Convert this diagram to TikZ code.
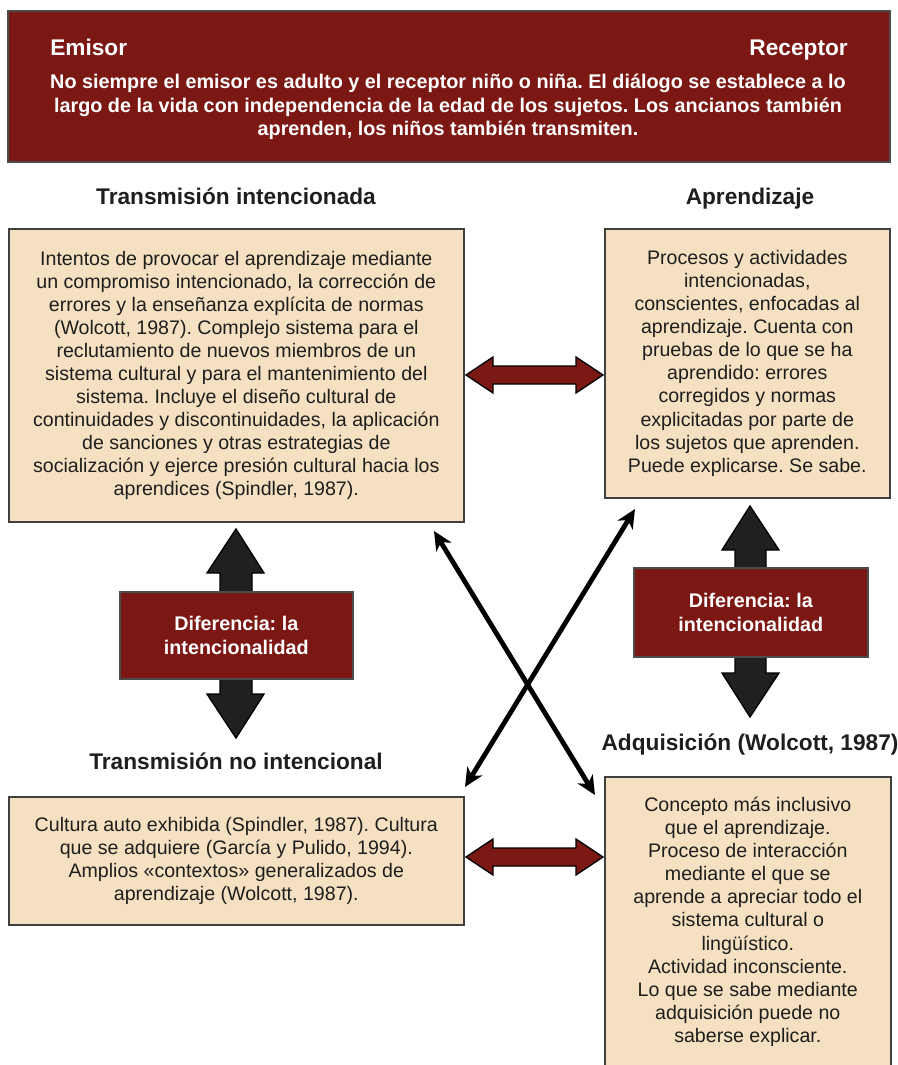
\documentclass[tikz,border=0pt]{standalone}
\usepackage{fontspec}
\setmainfont{Liberation Sans}
\usetikzlibrary{arrows.meta}
\definecolor{darkred}{RGB}{123,24,20}
\definecolor{tanfill}{RGB}{245,225,193}
\definecolor{txt}{RGB}{30,30,30}
\definecolor{blk}{RGB}{32,32,32}
\frenchspacing
\begin{document}
\begin{tikzpicture}[x=0.75pt,y=-0.75pt,
  tanbox/.style={draw=black!75, line width=1.2pt, fill=tanfill, inner sep=0pt, anchor=north west,
    align=center, text=txt, font=\fontsize{14.7}{17.3}\selectfont},
  redbox/.style={draw=black!70, line width=1.2pt, fill=darkred, inner sep=0pt, anchor=north west,
    align=center, text=white, font=\bfseries\fontsize{14.8}{18}\selectfont},
  heading/.style={text=txt, font=\bfseries\fontsize{17}{20}\selectfont, inner sep=0pt, anchor=base},
  redarrow/.style={fill=darkred, draw=black, line width=1pt, line join=miter},
  blkarrow/.style={fill=blk, draw=black, line width=1pt, line join=miter},
  crossarrow/.style={line width=3.6pt, {Stealth[length=14pt,width=13pt,inset=4pt]}-{Stealth[length=14pt,width=13pt,inset=4pt]}}
]
\useasboundingbox (0,0) rectangle (898,1065);
\clip (0,0) rectangle (898,1065);

% top banner
\node[redbox, minimum width=661.5pt, minimum height=113.25pt] (top) at (7,10) {};
\node[text=white, font=\bfseries\fontsize{17}{20}\selectfont, anchor=base west, inner sep=0pt] (emisor) at (50,55) {Emisor};
\node[text=white, font=\bfseries\fontsize{17}{20}\selectfont, anchor=base east, inner sep=0pt] (receptor) at (848,55) {Receptor};
\node[text=white, font=\bfseries\fontsize{14.85}{17.6}\selectfont, align=center, inner sep=0pt] (toptext) at (448,107)
 {No siempre el emisor es adulto y el receptor niño o niña. El diálogo se establece a lo\\
  largo de la vida con independencia de la edad de los sujetos. Los ancianos también\\
  aprenden, los niños también transmiten.};

% headings
\node[heading] (hti) at (236,204) {Transmisión intencionada};
\node[heading] (ha) at (750,204) {Aprendizaje};
\node[heading] (htni) at (236,769) {Transmisión no intencional};
\node[heading] (hadq) at (750,750) {Adquisición (Wolcott, 1987)};

% black vertical arrows (under red boxes)
\draw[blkarrow] (236,529) -- (264,573) -- (252,573) -- (252,694) -- (264,694) -- (236,738)
  -- (207,694) -- (220,694) -- (220,573) -- (207,573) -- cycle;
\draw[blkarrow] (750,506) -- (779,550) -- (766,550) -- (766,673) -- (779,673) -- (750,717)
  -- (722,673) -- (735,673) -- (735,550) -- (722,550) -- cycle;

% boxes
\node[tanbox, minimum width=341.25pt, minimum height=219.75pt] (ti) at (8,228)
 {Intentos de provocar el aprendizaje mediante\\
  un compromiso intencionado, la corrección de\\
  errores y la enseñanza explícita de normas\\
  (Wolcott, 1987). Complejo sistema para el\\
  reclutamiento de nuevos miembros de un\\
  sistema cultural y para el mantenimiento del\\
  sistema. Incluye el diseño cultural de\\
  continuidades y discontinuidades, la aplicación\\
  de sanciones y otras estrategias de\\
  socialización y ejerce presión cultural hacia los\\
  aprendices (Spindler, 1987).};
\node[tanbox, minimum width=213.75pt, minimum height=201.75pt] (apr) at (604,228)
 {Procesos y actividades\\
  intencionadas,\\
  conscientes, enfocadas al\\
  aprendizaje. Cuenta con\\
  pruebas de lo que se ha\\
  aprendido: errores\\
  corregidos y normas\\
  explicitadas por parte de\\
  los sujetos que aprenden.\\
  Puede explicarse. Se sabe.};
\node[tanbox, minimum width=341.25pt, minimum height=96pt] (tni) at (8,796)
 {Cultura auto exhibida (Spindler, 1987). Cultura\\
  que se adquiere (García y Pulido, 1994).\\
  Amplios «contextos» generalizados de\\
  aprendizaje (Wolcott, 1987).};
\node[tanbox, minimum width=214.5pt, minimum height=217.5pt] (adq) at (604,776)
 {Concepto más inclusivo\\
  que el aprendizaje.\\
  Proceso de interacción\\
  mediante el que se\\
  aprende a apreciar todo el\\
  sistema cultural o\\
  lingüístico.\\
  Actividad inconsciente.\\
  Lo que se sabe mediante\\
  adquisición puede no\\
  saberse explicar.};

% red difference boxes
\node[redbox, minimum width=174.75pt, minimum height=65.25pt] (difl) at (119,591)
 {Diferencia: la\\intencionalidad};
\node[redbox, minimum width=175.5pt, minimum height=66.75pt] (difr) at (633,567)
 {Diferencia: la\\intencionalidad};

% red horizontal double arrows
\draw[redarrow] (466,375) -- (493,357) -- (493,366) -- (576,366) -- (576,357) -- (603,375)
  -- (576,393) -- (576,384) -- (493,384) -- (493,393) -- cycle;
\draw[redarrow] (466,857) -- (493,839) -- (493,848) -- (576,848) -- (576,839) -- (603,857)
  -- (576,875) -- (576,866) -- (493,866) -- (493,875) -- cycle;

% crossing arrows
\coordinate (c1a) at (434,531);
\coordinate (c1b) at (595,795);
\coordinate (c2a) at (635,509);
\coordinate (c2b) at (465,787);
\draw[crossarrow] (c1a) -- (c1b);
\draw[crossarrow] (c2a) -- (c2b);
\end{tikzpicture}
\end{document}
